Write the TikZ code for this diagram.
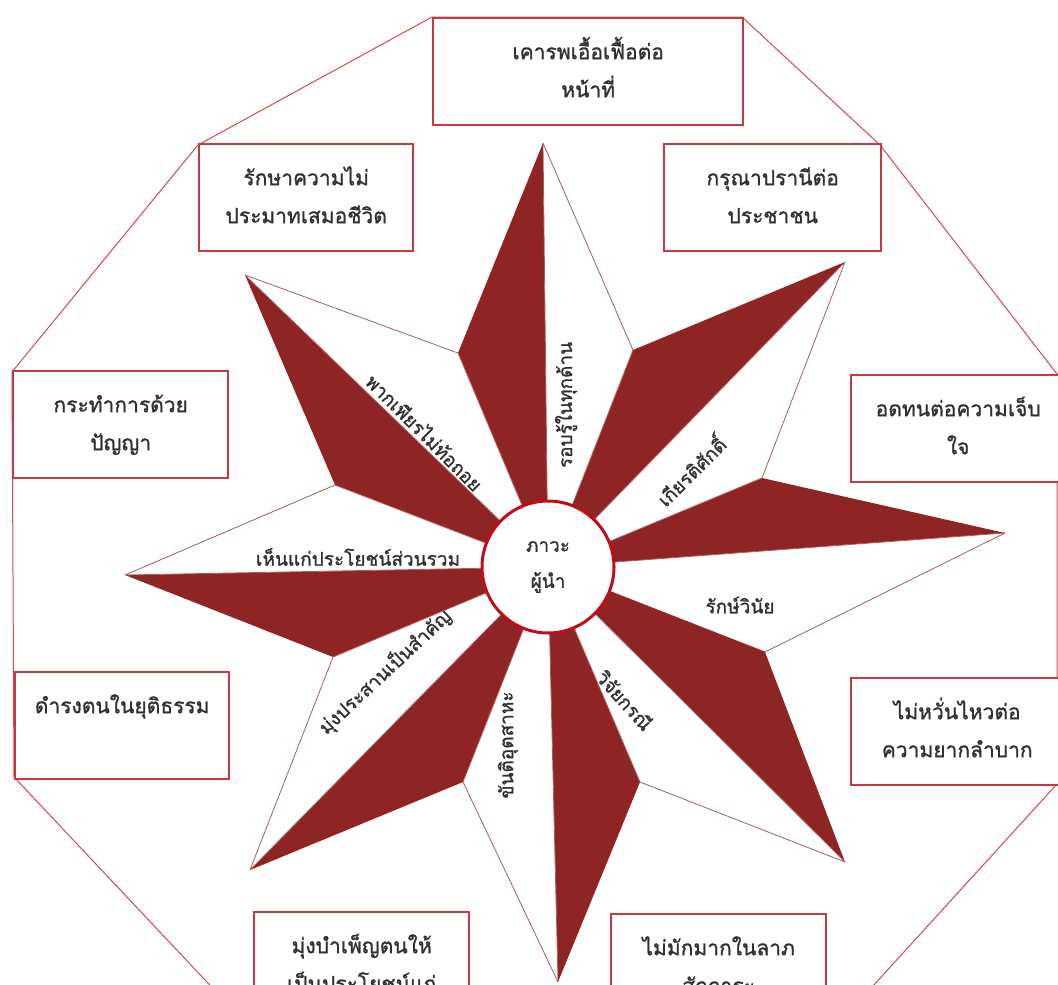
\documentclass[tikz,border=0pt]{standalone}
\usepackage{fontspec}
\newfontfamily\thaifont[Script=Thai,FakeBold=1.1]{Loma}
\usetikzlibrary{positioning}
\definecolor{boxred}{HTML}{C43B3F}
\definecolor{octred}{HTML}{D4474C}
\definecolor{stardark}{HTML}{8E2424}
\definecolor{starline}{HTML}{A45E5E}
\definecolor{hubred}{HTML}{C20C18}
\definecolor{inkgray}{HTML}{303030}
\newcommand{\boxtext}[3]{\parbox[c][107pt][t]{#1}{\centering\rule{0pt}{41pt}#2\\#3}}
\tikzset{
  frame/.style={draw=octred,line width=1pt},
  wedge/.style={draw=starline,line width=0.8pt,fill=white,line join=round},
  tbox/.style={draw=boxred,line width=2.4pt,fill=white,inner sep=0pt,anchor=north west,
    text=inkgray,font=\thaifont\fontsize{21}{38}\selectfont},
  hub/.style={circle,draw=hubred,line width=3pt,fill=white,minimum size=132pt,inner sep=0pt,
    align=center,text=inkgray,font=\thaifont\fontsize{19}{36}\selectfont},
  spoke/.style={inner sep=0pt,text=inkgray,font=\thaifont\fontsize{19}{20}\selectfont},
}
\begin{document}
\begin{tikzpicture}[x=1pt,y=-1pt]
  \useasboundingbox (0,0) rectangle (1058,985);
  \clip (0,0) rectangle (1058,985);
  % octagon frame behind the boxes
  \draw[frame] (432,17) -- (742,17) -- (880,145) -- (1057,374) -- (1057,784) -- (862,998)
    -- (222,998) -- (14,777) -- (12,372) -- (198,145) -- cycle;
  % star points
  \coordinate (C) at (548,567);
  \coordinate (T0) at (1005,533);
  \coordinate (T1) at (845,262);
  \coordinate (T2) at (543,143);
  \coordinate (T3) at (245,275);
  \coordinate (T4) at (125,575);
  \coordinate (T5) at (250,870);
  \coordinate (T6) at (558,982);
  \coordinate (T7) at (845,862);
  \coordinate (I0) at (762,478);
  \coordinate (I1) at (633,350);
  \coordinate (I2) at (458,353);
  \coordinate (I3) at (335,485);
  \coordinate (I4) at (333,657);
  \coordinate (I5) at (463,782);
  \coordinate (I6) at (640,782);
  \coordinate (I7) at (765,652);
  \foreach \t/\d/\w in {T0/I0/I7,T1/I1/I0,T2/I2/I1,T3/I3/I2,T4/I4/I3,T5/I5/I4,T6/I6/I5,T7/I7/I6}{
    \fill[stardark] (\t) -- (\d) -- (C) -- cycle;
    \filldraw[wedge] (\t) -- (\w) -- (C) -- cycle;
  }
  \node[hub] (hub) at (C) {ภาวะ\\ผู้นำ};
  % labels on the white halves
  \node[spoke,rotate=90] (sN) at (566,405) {รอบรู้ในทุกด้าน};
  \node[spoke,rotate=45] (sNE) at (690,470) {เกียรติศักดิ์};
  \node[spoke] (sE) at (740,605) {รักษ์วินัย};
  \node[spoke,rotate=-48] (sSE) at (625,700) {วิจัยกรณี};
  \node[spoke,rotate=90] (sS) at (508,745) {ขันติอุตสาหะ};
  \node[spoke,rotate=43] (sSW) at (385,672) {มุ่งประสานเป็นสำคัญ};
  \node[spoke] (sW) at (358,557) {เห็นแก่ประโยชน์ส่วนรวม};
  \node[spoke,rotate=-45] (sNW) at (425,432) {พากเพียรไม่ท้อถอย};
  % boxes round the frame
  \node[tbox] (bN) at (432,17) {\boxtext{310pt}{เคารพเอื้อเฟื้อต่อ}{หน้าที่}};
  \node[tbox] (bNW) at (198,143) {\boxtext{214pt}{รักษาความไม่}{ประมาทเสมอชีวิต}};
  \node[tbox] (bNE) at (663,143) {\boxtext{217pt}{กรุณาปรานีต่อ}{ประชาชน}};
  \node[tbox] (bW) at (12,370) {\boxtext{215pt}{กระทำการด้วย}{ปัญญา}};
  \node[tbox] (bE) at (850,374) {\boxtext{214pt}{อดทนต่อความเจ็บ}{ใจ}};
  \node[tbox] (bSW) at (14,671) {\boxtext{214pt}{ดำรงตนในยุติธรรม}{}};
  \node[tbox] (bSE) at (850,677) {\boxtext{212pt}{ไม่หวั่นไหวต่อ}{ความยากลำบาก}};
  \node[tbox] (bS1) at (253,911) {\boxtext{215pt}{มุ่งบำเพ็ญตนให้}{เป็นประโยชน์แก่}};
  \node[tbox] (bS2) at (610,913) {\boxtext{215pt}{ไม่มักมากในลาภ}{สักการะ}};
\end{tikzpicture}
\end{document}
